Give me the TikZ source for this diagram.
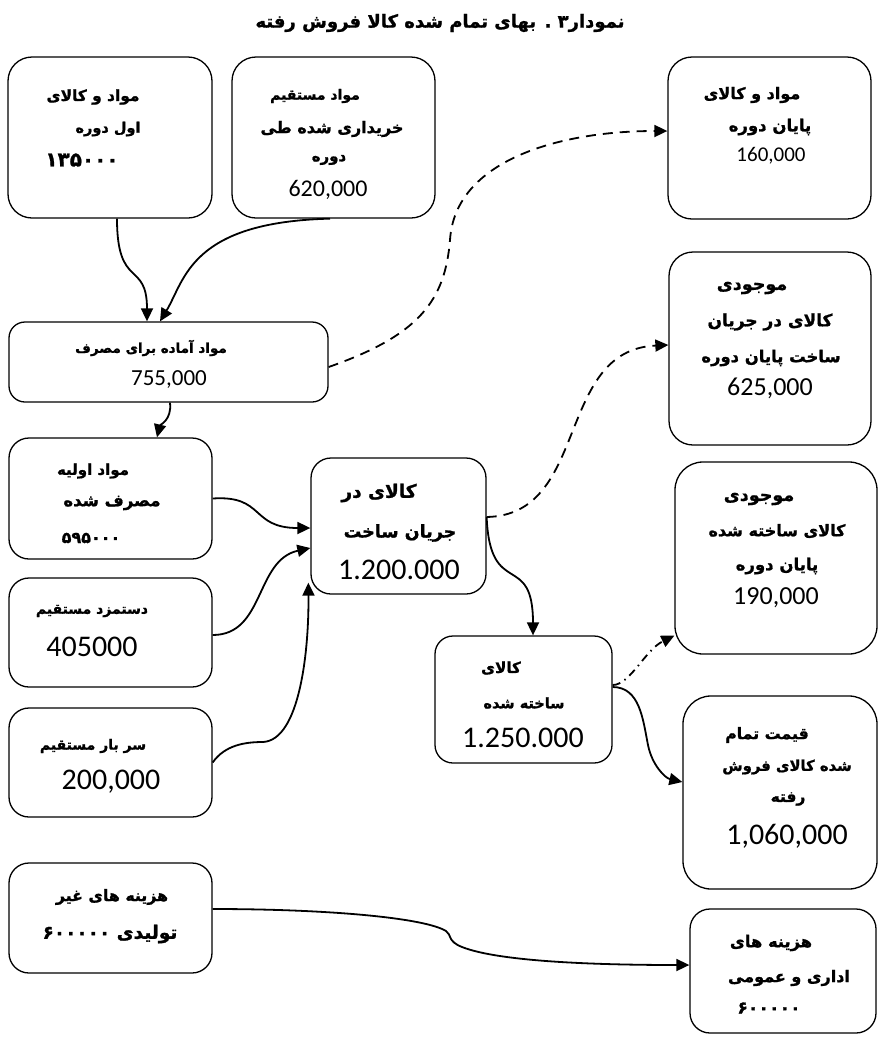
\documentclass[tikz,border=0pt]{standalone}
\usepackage{fontspec}
\usetikzlibrary{arrows.meta}
\TeXXeTstate=1
\newfontfamily\fa[Script=Arabic, BoldFeatures={FakeBold=1.2}]{DejaVu Sans}
\newfontfamily\numf{Carlito}
\newcommand{\faline}[1]{\beginR #1\endR}
% rounded box: name, x1, y1, x2, y2, corner radius
\newcommand{\rbox}[6]{\node[box, rounded corners=#6pt, minimum width={(#4-#2)*1pt}, minimum height={(#5-#3)*1pt}] (#1) at ({(#2+#4)/2},{(#3+#5)/2}) {};}
\tikzset{
  box/.style={draw, line width=1.3pt, inner sep=0pt},
  fat/.style={font=\fa\bfseries\fontsize{#1}{#1}\selectfont, inner sep=0pt},
  fat/.default=15,
  nm/.style={font=\numf\fontsize{#1}{#1}\selectfont, inner sep=0pt},
  flow/.style={line width=1.8pt, -{Triangle[length=13pt,width=12pt]}},
  dashflow/.style={flow, dash pattern=on 10pt off 7pt},
  dotflow/.style={flow, dash pattern=on 8pt off 5pt on 1.5pt off 5pt},
}
\begin{document}
\begin{tikzpicture}[x=1pt, y=-1pt]
\useasboundingbox (0,0) rectangle (880,1037);

\node[fat=18] (title) at (440,23) {\faline{نمودار۳ . بهای تمام شده کالا فروش رفته}};

% boxes
\rbox{A}{8}{57}{212}{218}{24}
\rbox{B}{232}{57}{435}{218}{24}
\rbox{C}{668}{57}{871}{219}{24}
\rbox{D}{9}{322}{328}{402}{16}
\rbox{E}{669}{252}{871}{445}{24}
\rbox{F}{9}{438}{212}{559}{20}
\rbox{G}{311}{458}{486}{594}{20}
\rbox{H}{9}{578}{212}{687}{20}
\rbox{I}{9}{708}{212}{817}{20}
\rbox{J}{675}{462}{877}{654}{28}
\rbox{K}{435}{636}{612}{763}{18}
\rbox{L}{683}{696}{877}{889}{28}
\rbox{M}{9}{863}{212}{973}{20}
\rbox{N}{690}{909}{876}{1033}{20}

% box texts
\node[fat=15.4] (a1) at (93,97) {\faline{مواد و کالای}};
\node[fat=14.5] (a2) at (108,129) {\faline{اول دوره}};
\node[fat=20] (a3) at (82,160) {۱۳۵۰۰۰};

\node[fat=14] (b1) at (315,96) {\faline{مواد مستقیم}};
\node[fat=16] (b2) at (332,129) {\faline{خریداری شده طی}};
\node[fat=15] (b3) at (329,160) {دوره};
\node[nm=24] (b4) at (328,190) {620,000};

\node[fat=16] (c1) at (752,95) {\faline{مواد و کالای}};
\node[fat=16.5] (c2) at (770,127) {\faline{پایان  دوره}};
\node[nm=21] (c3) at (771,156) {160,000};

\node[fat=13.5] (d1) at (151,348) {\faline{مواد آماده برای مصرف}};
\node[nm=23] (d2) at (169,380) {755,000};

\node[fat=17.5] (e1) at (752,288) {موجودی};
\node[fat=17] (e2) at (770,322) {\faline{کالای  در جریان}};
\node[fat=16.4] (e3) at (771,358) {\faline{ساخت پایان  دوره}};
\node[nm=26] (e4) at (770,388) {625,000};

\node[fat=15] (f1) at (93,471) {\faline{مواد اولیه}};
\node[fat=16.5] (f2) at (112,503) {\faline{مصرف شده}};
\node[fat=16] (f3) at (91,538) {۵۹۵۰۰۰};

\node[fat=18.5] (g1) at (379,493) {\faline{کالای در}};
\node[fat=17.5] (g2) at (400,533) {\faline{جریان ساخت}};
\node[nm=30] (g3) at (399,570) {1.200.000};

\node[fat=14] (h1) at (92,611) {\faline{دستمزد مستقیم}};
\node[nm=30] (h2) at (92,647) {405000};

\node[fat=14] (i1) at (93,746) {\faline{سر بار مستقیم}};
\node[nm=30] (i2) at (111,782) {200,000};

\node[fat=17.5] (j1) at (759,499) {موجودی};
\node[fat=16] (j2) at (777,531) {\faline{کالای  ساخته شده}};
\node[fat=16.5] (j3) at (777,566) {\faline{پایان  دوره}};
\node[nm=26] (j4) at (776,598) {190,000};

\node[fat=15.2] (k1) at (501,668) {کالای};
\node[fat=14.5] (k2) at (524,703) {\faline{ساخته شده}};
\node[nm=30] (k3) at (523,738) {1.250.000};

\node[fat=15.8] (l1) at (767,735) {\faline{قیمت تمام}};
\node[fat=14.8] (l2) at (787,767) {\faline{شده کالای فروش}};
\node[fat=15.5] (l3) at (788,799) {رفته};
\node[nm=30] (l4) at (787,836) {1,060,000};

\node[fat=15.8] (m1) at (112,897) {\faline{هزینه  های غیر}};
\node[fat=18.5] (m2) at (110,934) {\faline{تولیدی \beginL۶۰۰۰۰۰\endL}};

\node[fat=16.3] (n1) at (771,943) {\faline{هزینه های}};
\node[fat=16] (n2) at (789,978) {\faline{اداری و عمومی}};
\node[fat=17.3] (n3) at (769,1008) {۶۰۰۰۰۰};

% flows
\draw[flow] ([xshift=7pt]A.south) .. controls (117,290) and (147,260) .. ([xshift=-21.5pt]D.north);
\draw[flow] ([xshift=-3.5pt]B.south) .. controls (190,222) and (185,280) .. ([xshift=-8.5pt]D.north);
\draw[dashflow] ([yshift=-5pt]D.east) .. controls (420,335) and (445,300) .. (450,240)
   .. controls (455,160) and (560,131) .. ([yshift=7pt]C.west);
\draw[flow] ([xshift=1.5pt]D.south) .. controls (172,420) and (160,425) .. ([xshift=46.5pt]F.north);
\draw[flow] (F.east) .. controls (265,495) and (250,528) .. ([yshift=-2pt]G.west);
\draw[flow] ([yshift=-2.5pt]H.east) .. controls (265,635) and (255,560) .. ([yshift=-22pt]G.west);
\draw[flow] (I.east) .. controls (225,745) and (245,742) .. (263,742)
   .. controls (300,740) and (309,650) .. ([shift={(-2pt,12pt)}]G.south west);
\draw[dashflow] ([yshift=9pt]G.east) .. controls (590,515) and (555,350) .. ([yshift=3.5pt]E.west);
\draw[flow] ([yshift=9pt]G.east) .. controls (490,600) and (533,550) .. ([xshift=9.5pt]K.north);
\draw[dotflow] ([yshift=14.5pt]K.east) .. controls (630,685) and (645,650) .. ([yshift=19pt]J.south west);
\draw[flow] ([yshift=12.5pt]K.east) .. controls (640,687) and (643,720) .. (648,745)
   .. controls (652,765) and (665,778) .. ([yshift=10.5pt]L.west);
\draw[flow] ([yshift=9pt]M.east) .. controls (330,909) and (425,918) .. (446,931)
   .. controls (452,935) and (447,941) .. (462,947)
   .. controls (500,962) and (600,965) .. ([yshift=6pt]N.west);
\end{tikzpicture}
\end{document}
